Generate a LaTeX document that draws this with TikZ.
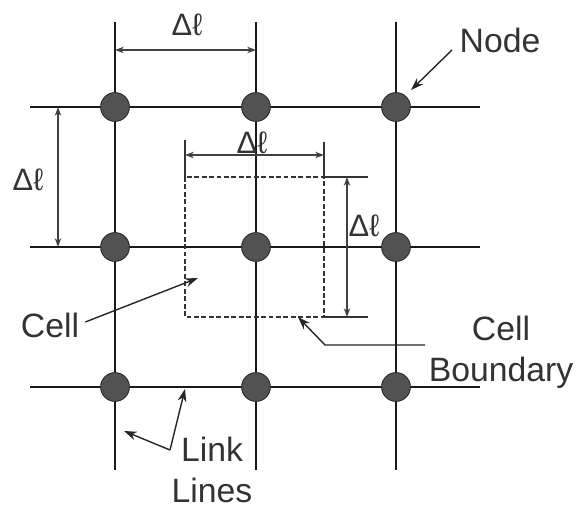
\documentclass[tikz,border=0pt]{standalone}
\usepackage{fontspec}
\setmainfont{Liberation Sans}
\usetikzlibrary{arrows.meta}

\begin{document}
\begin{tikzpicture}[
    x=0.25mm,
    y=-0.25mm,
    gridnode/.style={
        circle,
        draw=black!85,
        fill=black!68,
        line width=0.6pt,
        minimum size=7.2mm,
        inner sep=0pt
    },
    link/.style={line width=1.2pt, draw=black!90},
    ext/.style={line width=0.9pt, draw=black!80},
    dim/.style={
        {Stealth[length=2.2mm,width=1.6mm]}-{Stealth[length=2.2mm,width=1.6mm]},
        line width=0.9pt,
        draw=black!75
    },
    cellbound/.style={dash pattern=on 3.5pt off 1.8pt, line width=1.3pt, draw=black!80},
    label/.style={
        font=\fontsize{24}{29}\selectfont,
        text=black!80,
        align=center,
        inner sep=0pt
    },
    delta/.style={label, font=\fontsize{22}{26}\selectfont},
    pointer/.style={-{Stealth[length=3.2mm,width=2.2mm]}, line width=1pt, draw=black!85}
]
\useasboundingbox (0,0) rectangle (578,508);

% ends of the link lines
\coordinate (t1) at (115,22);
\coordinate (t2) at (256,22);
\coordinate (t3) at (396,22);
\coordinate (b1) at (115,470);
\coordinate (b2) at (256,470);
\coordinate (b3) at (396,470);
\coordinate (l1) at (30,107);
\coordinate (l2) at (30,247);
\coordinate (l3) at (30,387);
\coordinate (r1) at (480,107);
\coordinate (r2) at (480,247);
\coordinate (r3) at (480,387);

\draw[link] (t1) -- (b1);
\draw[link] (t2) -- (b2);
\draw[link] (t3) -- (b3);
\draw[link] (l1) -- (r1);
\draw[link] (l2) -- (r2);
\draw[link] (l3) -- (r3);

\node[gridnode] (n11) at (115,107) {};
\node[gridnode] (n12) at (256,107) {};
\node[gridnode] (n13) at (396,107) {};
\node[gridnode] (n21) at (115,247) {};
\node[gridnode] (n22) at (256,247) {};
\node[gridnode] (n23) at (396,247) {};
\node[gridnode] (n31) at (115,387) {};
\node[gridnode] (n32) at (256,387) {};
\node[gridnode] (n33) at (396,387) {};

% cell boundary
\coordinate (c1) at (185,177);
\coordinate (c2) at (324,317);
\draw[cellbound] (c1) rectangle (c2);

% extension lines of the cell
\coordinate (e1) at (185,140);
\coordinate (e2) at (324,142);
\coordinate (e3) at (368,177);
\coordinate (e4) at (368,317);
\draw[ext] (e1) -- (c1);
\draw[ext] (e2) -- (c1 -| c2);
\draw[ext] (c1 -| c2) -- (e3);
\draw[ext] (c2) -- (e4);

% dimensions
\coordinate (dt1) at (115,50);
\coordinate (dt2) at (256,50);
\coordinate (dl1) at (58,107);
\coordinate (dl2) at (58,247);
\coordinate (dc1) at (185,155);
\coordinate (dc2) at (324,155);
\coordinate (dr1) at (347,177);
\coordinate (dr2) at (347,317);
\draw[dim] (dt1) -- (dt2);
\draw[dim] (dl1) -- (dl2);
\draw[dim] (dc1) -- (dc2);
\draw[dim] (dr1) -- (dr2);

\node[delta] (dlt) at (187,25) {Δℓ};
\node[delta] (dll) at (28,180) {Δℓ};
\node[delta] (dlc) at (252,143) {Δℓ};
\node[delta] (dlr) at (364,226) {Δℓ};

% annotations
\node[label] (nodelbl) at (500,40) {Node};
\node[label] (celllbl) at (50,325) {Cell};
\node[label] (boundlbl) at (501,352) {Cell\\Boundary};
\node[label] (linklbl) at (212,470) {Link\\Lines};

\coordinate (pn) at (411,90);
\coordinate (pc) at (198,278);
\coordinate (pb1) at (425,345);
\coordinate (pb2) at (325,345);
\coordinate (pb) at (298,317);
\coordinate (pk) at (170,450);
\coordinate (pk1) at (185,389);
\coordinate (pk2) at (124,431);

\draw[pointer] (452,50) -- (pn);
\draw[pointer] (celllbl.east) ++(6,-3) -- (pc);
\draw[pointer] (pb1) -- (pb2) -- (pb);
\draw[pointer] (pk) -- (pk1);
\draw[pointer] (pk) -- (pk2);

\end{tikzpicture}
\end{document}
